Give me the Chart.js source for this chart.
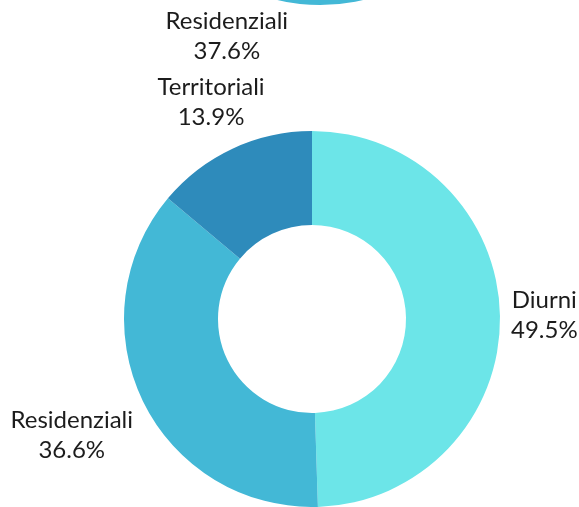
<!DOCTYPE html>
<html>
<head>
<meta charset="utf-8">
<script src="https://cdn.jsdelivr.net/npm/chart.js@4.4.0/dist/chart.umd.min.js"></script>
<style>
  html, body { margin: 0; padding: 0; background: #fff; overflow: hidden; }
  #page { position: relative; width: 579px; height: 507px; overflow: hidden; }
  .box { position: absolute; left: 0; width: 579px; }
</style>
</head>
<body>
<div id="page">
  <div class="box" id="upperBox" style="top:-400px;height:460px"><canvas id="upperChart"></canvas></div>
  <div class="box" id="lowerBox" style="top:0;height:507px"><canvas id="lowerChart"></canvas></div>
</div>
<script>
// categories and values (percent)
const categories = ["Diurni", "Residenziali", "Territoriali"];
const lowerValues = [49.5, 36.6, 13.9];
// chart above is cut off by the crop, only "Residenziali 37.6%" is readable
const upperValues = [37.6, 37.6, 24.8];
const sliceColors = ["#6ce5e8", "#43b8d6", "#2e8bbb"];

const FONT = "Lato, sans-serif";

// draws "label\nvalue%" outside each slice
const outsideLabels = {
  id: "outsideLabels",
  afterDraw(chart) {
    const ctx = chart.ctx;
    const meta = chart.getDatasetMeta(0);
    const values = chart.data.datasets[0].data;
    ctx.save();
    ctx.font = "24px " + FONT;
    ctx.fillStyle = "#1c1c1c";
    ctx.textAlign = "center";
    ctx.textBaseline = "middle";
    const lineH = 30;
    meta.data.forEach((arc, i) => {
      const p = arc.getProps(["x", "y", "startAngle", "endAngle", "outerRadius"], true);
      const mid = (p.startAngle + p.endAngle) / 2;
      const vx = Math.cos(mid), vy = Math.sin(mid);
      const lines = [chart.data.labels[i], values[i].toFixed(1) + "%"];
      const w = Math.max(...lines.map(l => ctx.measureText(l).width)) / 2;
      const h = 36;
      const ext = Math.min(Math.abs(vx) > 1e-6 ? w / Math.abs(vx) : 1e9,
                           Math.abs(vy) > 1e-6 ? h / Math.abs(vy) : 1e9);
      const d = p.outerRadius + 11 + ext;
      const cx = p.x + vx * d, cy = p.y + vy * d;
      ctx.fillText(lines[0], cx, cy - lineH / 2);
      ctx.fillText(lines[1], cx, cy + lineH / 2);
    });
    ctx.restore();
  }
};

function makeDonut(id, values, padding) {
  return new Chart(document.getElementById(id), {
    type: "doughnut",
    data: {
      labels: categories,
      datasets: [{
        data: values,
        backgroundColor: sliceColors,
        borderWidth: 0
      }]
    },
    options: {
      responsive: true,
      maintainAspectRatio: false,
      animation: false,
      cutout: "50%",
      layout: { padding: padding },
      plugins: {
        legend: { display: false },
        tooltip: { enabled: false }
      }
    },
    plugins: [outsideLabels]
  });
}

makeDonut("upperChart", upperValues, { top: 29, bottom: 55, left: 132, right: 71 });
makeDonut("lowerChart", lowerValues, { top: 131, bottom: 0, left: 124, right: 79 });
</script>
</body>
</html>
